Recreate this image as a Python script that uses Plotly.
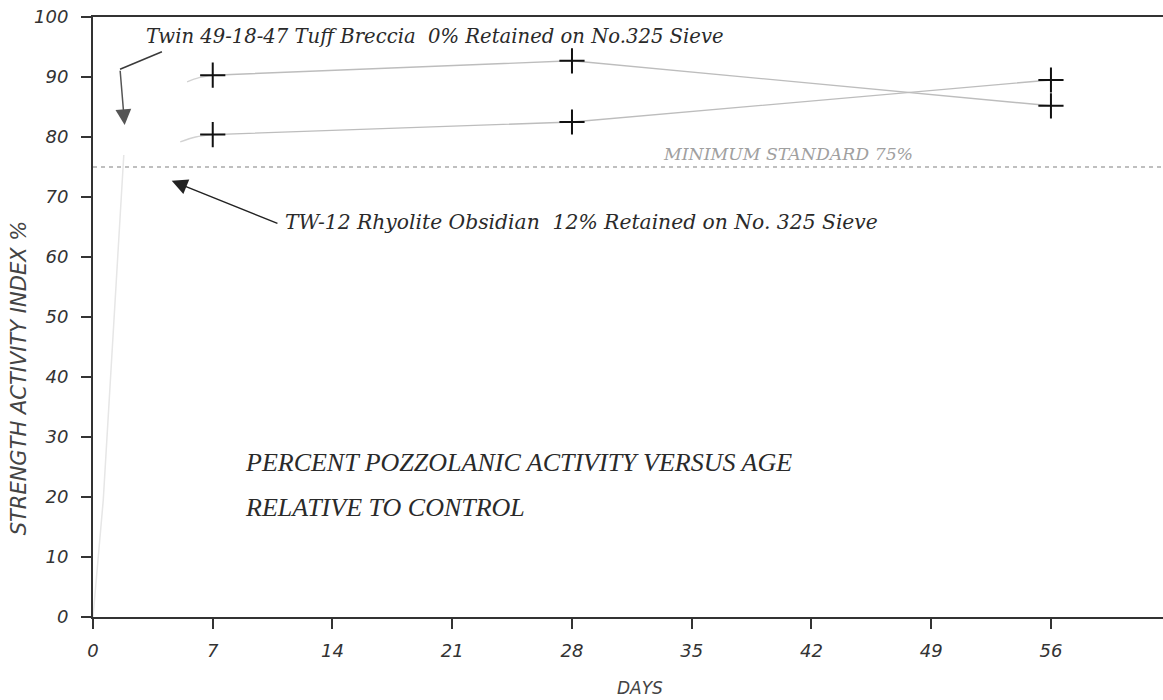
import plotly.graph_objects as go

# ---- data ----
days = [7, 28, 56]
twin_tuff = [90.3, 92.7, 85.2]        # Twin 49-18-47 Tuff Breccia
tw12_rhyolite = [80.4, 82.5, 89.5]    # TW-12 Rhyolite Obsidian

# faint lead-in of each curve just before day 7 (visible part of the scan)
twin_lead_days = [5.5, 6.2, 7]
twin_lead_vals = [89.2, 89.9, 90.3]
tw12_lead_days = [5.1, 6.0, 7]
tw12_lead_vals = [79.2, 80.0, 80.4]

# faint early rise from the origin
rise_days = [0, 0.6, 1.8]
rise_vals = [0, 19.5, 77]

x_ticks = [0, 7, 14, 21, 28, 35, 42, 49, 56]
y_ticks = [0, 10, 20, 30, 40, 50, 60, 70, 80, 90, 100]
min_standard = 75

line_col = "#bdbdbd"
faint_col = "#e6e6e6"
text_col = "#2a2a2a"

fig = go.Figure()

fig.add_trace(go.Scatter(x=rise_days, y=rise_vals, mode="lines",
                         line=dict(color=faint_col, width=1.5), hoverinfo="skip"))
for ld, lv in [(twin_lead_days, twin_lead_vals), (tw12_lead_days, tw12_lead_vals)]:
    fig.add_trace(go.Scatter(x=ld, y=lv, mode="lines", line_shape="spline",
                             line=dict(color="#d2d2d2", width=1.4), hoverinfo="skip"))

for vals, name in [(twin_tuff, "Twin 49-18-47 Tuff Breccia"),
                   (tw12_rhyolite, "TW-12 Rhyolite Obsidian")]:
    fig.add_trace(go.Scatter(x=days, y=vals, mode="lines",
                             line=dict(color=line_col, width=1.4), name=name))
    fig.add_trace(go.Scatter(x=days, y=vals, mode="markers", name=name,
                             marker=dict(symbol="cross-thin", size=18,
                                         line=dict(color="#111111", width=2))))

# minimum standard line
fig.add_hline(y=min_standard, line=dict(color="#ababab", width=1.5, dash="4px,4px"))

serif = "DejaVu Serif"

fig.add_annotation(x=3.0, y=96.8, xref="x", yref="y", xanchor="left", yanchor="middle",
                   text="Twin 49-18-47 Tuff Breccia&nbsp;&nbsp;0% Retained on No.325 Sieve",
                   showarrow=False,
                   font=dict(family=serif, size=19.6, color=text_col, style="italic"))
# bent leader for Twin label
fig.add_shape(type="line", xref="x", yref="y", x0=4.03, y0=94.2, x1=1.58, y1=91.3,
              line=dict(color="#3a3a3a", width=1.5))
fig.add_annotation(x=1.85, y=82.0, ax=1.58, ay=91.3, xref="x", yref="y",
                   axref="x", ayref="y", text="", showarrow=True,
                   arrowhead=2, arrowsize=2.1, arrowwidth=1.5, arrowcolor="#555555")

fig.add_annotation(x=11.1, y=65.8, xref="x", yref="y", xanchor="left", yanchor="middle",
                   text="TW-12 Rhyolite Obsidian&nbsp;&nbsp;12% Retained on No. 325 Sieve",
                   showarrow=False,
                   font=dict(family=serif, size=20.3, color=text_col, style="italic"))
fig.add_annotation(x=4.6, y=72.7, ax=10.87, ay=65.5, xref="x", yref="y",
                   axref="x", ayref="y", text="", showarrow=True,
                   arrowhead=2, arrowsize=2.1, arrowwidth=1.5, arrowcolor="#222222")

fig.add_annotation(x=33.2, y=77.2, xref="x", yref="y", xanchor="left", yanchor="middle",
                   text="MINIMUM STANDARD 75%", showarrow=False,
                   font=dict(family=serif, size=17.3, color="#a0a0a0", style="italic"))

title_font = dict(family="Liberation Serif", size=26, color=text_col, style="italic")
fig.add_annotation(x=8.77, y=25.8, xref="x", yref="y", xanchor="left", yanchor="middle",
                   text="PERCENT POZZOLANIC ACTIVITY VERSUS AGE", showarrow=False,
                   font=title_font)
fig.add_annotation(x=8.77, y=18.2, xref="x", yref="y", xanchor="left", yanchor="middle",
                   text="RELATIVE TO CONTROL", showarrow=False, font=title_font)

axis_font = dict(family="DejaVu Sans", size=21, color="#444444", style="italic")
fig.add_annotation(x=-0.069, y=0.398, xref="paper", yref="paper", textangle=-90,
                   text="STRENGTH ACTIVITY INDEX %", showarrow=False,
                   xanchor="center", yanchor="middle", font=axis_font)
fig.add_annotation(x=0.511, y=-0.118, xref="paper", yref="paper",
                   text="DAYS", showarrow=False, xanchor="center", yanchor="middle",
                   font=dict(family="DejaVu Sans", size=17, color="#444444", style="italic"))

tick_font = dict(family="DejaVu Sans", size=18, color="#333333", style="italic")
fig.update_xaxes(range=[0, 62.55], tickvals=x_ticks, ticks="outside", ticklen=10,
                 tickwidth=1.5, tickcolor="#333333", showline=True, linecolor="#333333",
                 linewidth=2, mirror=True, showgrid=False, zeroline=False,
                 tickfont=tick_font, ticklabelstandoff=6, automargin=False,
                 ticklabeloverflow="allow")
fig.update_yaxes(range=[0, 100], tickvals=y_ticks, ticks="outside", ticklen=10,
                 tickwidth=1.5, tickcolor="#333333", showline=True, linecolor="#333333",
                 linewidth=2, showgrid=False, zeroline=False, tickfont=tick_font,
                 ticklabelstandoff=9, automargin=False, ticklabeloverflow="allow")

fig.update_layout(width=1163, height=700, showlegend=False,
                  plot_bgcolor="white", paper_bgcolor="white",
                  margin=dict(l=93, r=0, t=17, b=83))

# remove the browser's default 8px page margin so the figure fills the window
fig.write_html("out.html", config={"displayModeBar": False},
               post_script="document.body.style.margin='0';")
